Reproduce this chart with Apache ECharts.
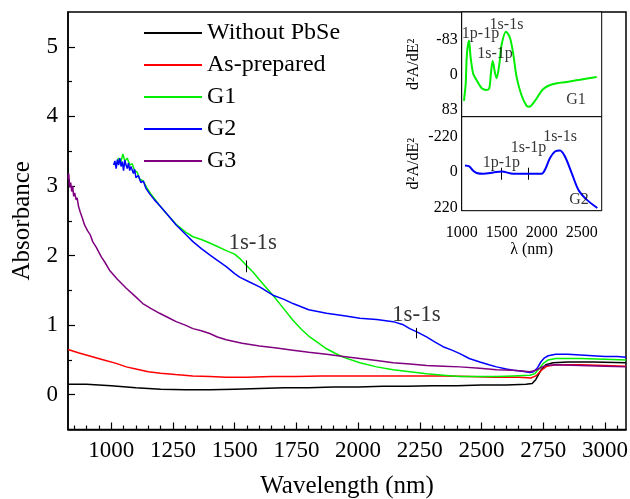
<!DOCTYPE html>
<html><head><meta charset="utf-8">
<script src="https://cdn.jsdelivr.net/npm/echarts@6/dist/echarts.min.js"></script>
<style>html,body{margin:0;padding:0;background:#fff}#c{width:630px;height:499px}</style>
</head><body><div id="c"></div><script>
// ---- main chart data: [wavelength nm, absorbance] ----
const withoutPbSe = [[825,0.15],[900,0.15],[1000,0.13],[1100,0.10],[1200,0.08],[1300,0.07],[1400,0.07],[1500,0.08],[1600,0.09],[1700,0.10],[1800,0.10],[1900,0.11],[2000,0.11],[2100,0.12],[2200,0.12],[2300,0.13],[2400,0.13],[2500,0.14],[2600,0.14],[2680,0.15],[2705,0.16],[2720,0.22],[2740,0.35],[2760,0.43],[2790,0.46],[2850,0.47],[2950,0.47],[3085,0.46]];
const asPrepared = [[825,0.65],[870,0.60],[920,0.55],[970,0.50],[1020,0.45],[1061,0.40],[1100,0.37],[1150,0.33],[1200,0.31],[1260,0.29],[1330,0.27],[1400,0.26],[1466,0.25],[1550,0.25],[1650,0.26],[1750,0.26],[1850,0.27],[1950,0.27],[2050,0.27],[2150,0.27],[2250,0.27],[2350,0.27],[2450,0.26],[2550,0.25],[2650,0.25],[2700,0.24],[2720,0.27],[2745,0.36],[2765,0.41],[2800,0.43],[2900,0.43],[3000,0.42],[3085,0.41]];
const g1 = [[1010,3.32],[1020,3.30],[1030,3.40],[1040,3.35],[1047,3.46],[1055,3.36],[1065,3.40],[1075,3.30],[1085,3.32],[1095,3.22],[1105,3.20],[1115,3.10],[1130,3.07],[1145,2.97],[1160,2.89],[1196,2.72],[1230,2.58],[1263,2.45],[1300,2.34],[1331,2.27],[1365,2.23],[1399,2.18],[1430,2.13],[1466,2.07],[1500,2.02],[1520,1.96],[1547,1.86],[1575,1.76],[1601,1.65],[1630,1.53],[1655,1.43],[1700,1.23],[1736,1.07],[1770,0.94],[1804,0.83],[1840,0.74],[1872,0.66],[1905,0.60],[1939,0.54],[2007,0.46],[2075,0.40],[2142,0.36],[2210,0.33],[2277,0.30],[2345,0.28],[2412,0.26],[2493,0.26],[2560,0.26],[2628,0.27],[2696,0.28],[2715,0.30],[2735,0.38],[2750,0.45],[2770,0.50],[2800,0.52],[2900,0.52],[3000,0.51],[3085,0.50]];
const g2 = [[1010,3.30],[1015,3.36],[1020,3.25],[1025,3.38],[1030,3.30],[1035,3.40],[1040,3.28],[1045,3.35],[1050,3.22],[1055,3.37],[1060,3.30],[1065,3.25],[1070,3.33],[1075,3.22],[1080,3.28],[1090,3.18],[1095,3.24],[1100,3.12],[1110,3.15],[1120,3.05],[1130,3.07],[1140,2.97],[1155,2.89],[1175,2.80],[1196,2.72],[1230,2.58],[1263,2.44],[1300,2.31],[1331,2.20],[1365,2.10],[1399,2.01],[1430,1.93],[1466,1.84],[1500,1.74],[1520,1.69],[1560,1.62],[1601,1.55],[1655,1.43],[1700,1.37],[1736,1.31],[1800,1.22],[1872,1.17],[1950,1.13],[2007,1.10],[2075,1.08],[2142,1.05],[2180,1.01],[2209,0.95],[2240,0.90],[2277,0.83],[2310,0.76],[2344,0.69],[2380,0.64],[2412,0.59],[2450,0.52],[2493,0.47],[2530,0.43],[2561,0.40],[2600,0.37],[2628,0.35],[2660,0.34],[2696,0.32],[2710,0.33],[2725,0.38],[2740,0.47],[2755,0.53],[2770,0.56],[2800,0.58],[2850,0.58],[2900,0.57],[2950,0.56],[3000,0.55],[3050,0.55],[3085,0.54]];
const g3 = [[825,3.10],[828,3.18],[832,2.98],[836,3.05],[840,2.92],[844,3.00],[848,2.85],[852,2.90],[858,2.80],[862,2.83],[868,2.70],[875,2.62],[882,2.55],[892,2.44],[905,2.35],[915,2.30],[925,2.20],[939,2.12],[960,1.98],[975,1.90],[993,1.79],[1025,1.66],[1061,1.53],[1095,1.42],[1128,1.31],[1160,1.24],[1196,1.17],[1230,1.11],[1263,1.05],[1300,1.00],[1331,0.95],[1365,0.92],[1399,0.88],[1430,0.83],[1466,0.79],[1530,0.74],[1601,0.70],[1670,0.67],[1736,0.64],[1800,0.61],[1872,0.58],[1940,0.55],[2007,0.52],[2075,0.49],[2142,0.46],[2210,0.44],[2277,0.42],[2345,0.41],[2412,0.40],[2493,0.38],[2560,0.36],[2628,0.35],[2696,0.33],[2720,0.35],[2740,0.39],[2760,0.42],[2800,0.43],[2900,0.42],[3000,0.41],[3085,0.40]];
const seriesNames = ['Without PbSe','As-prepared','G1','G2','G3'];
const xMajorTicks = [1000,1250,1500,1750,2000,2250,2500,2750,3000];
const xMinorTicks = [850,900,950,1050,1100,1150,1200,1300,1350,1400,1450,1550,1600,1650,1700,1800,1850,1900,1950,2050,2100,2150,2200,2300,2350,2400,2450,2550,2600,2650,2700,2800,2850,2900,2950,3050];
const yMajorTicks = [0,1,2,3,4,5];
const yMinorTicks = [0.5,1.5,2.5,3.5,4.5];
// annotations (data coords)
const mainLabels = [[1573,2.18,'1s-1s'],[2236,1.14,'1s-1s']];
const mainMarks = [[1547,1.76,1.93],[2234,0.81,0.96]];

// ---- inset data: [wavelength nm, d2A/dE2] ----
const insetG1 = [[1029,62],[1035,50],[1050,22],[1065,-49],[1091,-82],[1112,-41],[1145,-2],[1187,13],[1250,32],[1312,36],[1345,32],[1366,-5],[1387,-33],[1416,-5],[1437,8],[1470,-25],[1500,-73],[1554,-103],[1604,-88],[1645,-49],[1687,6],[1750,50],[1812,74],[1845,76],[1916,62],[2020,34],[2145,22],[2312,17],[2479,12],[2687,5]];
const insetG2 = [[1041,-41],[1095,-35],[1140,-10],[1187,6],[1270,11],[1395,3],[1500,-4],[1645,11],[1833,11],[2000,11],[2041,-14],[2104,-87],[2166,-128],[2229,-135],[2291,-97],[2375,6],[2458,110],[2562,172],[2695,224]];
const insetXTicks = [1000,1500,2000,2500];
const insetXMinor = [1100,1200,1300,1400,1600,1700,1800,1900,2100,2200,2300,2400,2600,2700];
const insetG1Ticks = [-83,0,83];
const insetG2Ticks = [-220,0,220];
const insetG1Labels = [[1235,-97,'1p-1p'],[1560,-119,'1s-1s'],[1416,-50,'1s-1p'],[2429,59,'G1']];
const insetG2Labels = [[2229,-220,'1s-1s'],[1835,-151,'1s-1p'],[1497,-58,'1p-1p'],[2466,173,'G2']];
const insetG2Marks = [[1500,-27,48],[1833,-27,48]];

const FONT = "'Liberation Serif','Times New Roman',serif";
const colors = ['#000000','#ff0000','#00ee00','#0000ff','#800080'];
const chart = echarts.init(document.getElementById('c'), null, {renderer:'canvas'});
const plain = v => String(v);

function labelSeries(list, xi, yi, size){
  return {type:'scatter', xAxisIndex:xi, yAxisIndex:yi, symbolSize:0, silent:true, z:7,
    itemStyle:{color:'rgba(0,0,0,0)'},
    data: list.map(d=>({value:[d[0],d[1]], label:{formatter:d[2]}})),
    label:{show:true, position:'inside', color:'#000', fontFamily:FONT, fontSize:size}};
}
function markSeries(list, xi, yi){
  return {type:'line', xAxisIndex:xi, yAxisIndex:yi, data:[], silent:true, z:7,
    markLine:{symbol:['none','none'], silent:true, animation:false, label:{show:false},
      lineStyle:{color:'#000', width:1, type:'solid'},
      data: list.map(d=>[{coord:[d[0],d[1]]},{coord:[d[0],d[2]]}])}};
}

const mainData = [withoutPbSe, asPrepared, g1, g2, g3];
const series = mainData.map((d,i)=>({type:'line', name:seriesNames[i], xAxisIndex:0, yAxisIndex:0,
  data:d, symbol:'none', lineStyle:{color:colors[i], width:1.5}, itemStyle:{color:colors[i]}, z:2}));
series.push(labelSeries(mainLabels,0,0,23));
series.push(markSeries(mainMarks,0,0));
series.push({type:'line', name:'G1 inset', xAxisIndex:2, yAxisIndex:2, data:insetG1, symbol:'none', smooth:0.3, lineStyle:{color:'#00ee00', width:2}, z:6});
series.push({type:'line', name:'G2 inset', xAxisIndex:3, yAxisIndex:3, data:insetG2, symbol:'none', smooth:0.3, lineStyle:{color:'#0000ff', width:2}, z:6});
series.push(labelSeries(insetG1Labels,2,2,16));
series.push(labelSeries(insetG2Labels,3,3,16));
series.push(markSeries(insetG2Marks,3,3));

const gridBase = {outerBoundsMode:'none', containLabel:false};
const option = {
  animation:false,
  backgroundColor:'#fff',
  color: colors,
  textStyle:{fontFamily:FONT},
  legend:{data:seriesNames, orient:'vertical', left:144, top:21, padding:0, itemGap:8,
    itemWidth:58, itemHeight:2, icon:'rect', textStyle:{fontFamily:FONT, fontSize:24, color:'#000'}},
  grid:[
    Object.assign({left:68, right:4, top:12, bottom:69.5, show:true, borderColor:'#000', borderWidth:1.5, backgroundColor:'#fff'}, gridBase),
    Object.assign({left:68, right:4, top:12, bottom:69.5, show:false}, gridBase),
    Object.assign({left:461.7, width:140, top:12, height:104.7, show:true, borderColor:'#000', borderWidth:1, backgroundColor:'#fff', z:1}, gridBase),
    Object.assign({left:461.7, width:140, top:116.7, height:94, show:true, borderColor:'#000', borderWidth:1, backgroundColor:'#fff', z:1}, gridBase)
  ],
  xAxis:[
    {gridIndex:0, type:'value', min:825, max:3085, splitLine:{show:false},
      axisLine:{onZero:false, lineStyle:{color:'#000', width:1.5}},
      axisTick:{inside:true, length:7, customValues:xMajorTicks, lineStyle:{color:'#000', width:1.2}},
      axisLabel:{customValues:xMajorTicks, formatter:plain, fontSize:23, color:'#000', margin:10, fontFamily:FONT},
      name:'Wavelength (nm)', nameLocation:'middle', nameGap:44, nameTextStyle:{fontSize:25, color:'#000', fontFamily:FONT}},
    {gridIndex:1, type:'value', min:825, max:3085, splitLine:{show:false},
      axisLine:{show:false, onZero:false},
      axisTick:{inside:true, length:4, customValues:xMinorTicks, lineStyle:{color:'#000', width:1.2}},
      axisLabel:{show:false}},
    {gridIndex:2, type:'value', min:1000, max:2750, splitLine:{show:false},
      axisLine:{onZero:false, lineStyle:{color:'#000', width:1}},
      axisTick:{inside:true, length:4, customValues:insetXTicks.concat(insetXMinor), lineStyle:{color:'#000'}},
      axisLabel:{show:false}},
    {gridIndex:3, type:'value', min:1000, max:2750, splitLine:{show:false},
      axisLine:{onZero:false, lineStyle:{color:'#000', width:1}},
      axisTick:{inside:true, length:4, customValues:insetXTicks.concat(insetXMinor), lineStyle:{color:'#000'}},
      axisLabel:{customValues:insetXTicks, formatter:plain, fontSize:16, color:'#000', margin:14, fontFamily:FONT},
      name:'λ (nm)', nameLocation:'middle', nameGap:31, nameTextStyle:{fontSize:16, color:'#000', fontFamily:FONT}}
  ],
  yAxis:[
    {gridIndex:0, type:'value', min:-0.5, max:5.5, splitLine:{show:false},
      axisLine:{onZero:false, lineStyle:{color:'#000', width:1.5}},
      axisTick:{inside:true, length:7, customValues:yMajorTicks, lineStyle:{color:'#000', width:1.2}},
      axisLabel:{customValues:yMajorTicks, formatter:plain, fontSize:23, color:'#000', margin:10, fontFamily:FONT},
      name:'Absorbance', nameLocation:'middle', nameGap:33, nameRotate:90, nameTextStyle:{fontSize:25, color:'#000', fontFamily:FONT}},
    {gridIndex:1, type:'value', min:-0.5, max:5.5, splitLine:{show:false},
      axisLine:{show:false, onZero:false},
      axisTick:{inside:true, length:4, customValues:yMinorTicks, lineStyle:{color:'#000', width:1.2}},
      axisLabel:{show:false}},
    {gridIndex:2, type:'value', min:-150, max:100, inverse:true, splitLine:{show:false},
      axisLine:{onZero:false, lineStyle:{color:'#000', width:1}},
      axisTick:{inside:true, length:3, customValues:insetG1Ticks, lineStyle:{color:'#000'}},
      axisLabel:{customValues:insetG1Ticks, formatter:plain, fontSize:16, color:'#000', margin:4, fontFamily:FONT},
      name:'d²A/dE²', nameLocation:'middle', nameGap:40, nameRotate:90, nameTextStyle:{fontSize:16, color:'#000', fontFamily:FONT}},
    {gridIndex:3, type:'value', min:-345, max:241, inverse:true, splitLine:{show:false},
      axisLine:{onZero:false, lineStyle:{color:'#000', width:1}},
      axisTick:{inside:true, length:3, customValues:insetG2Ticks, lineStyle:{color:'#000'}},
      axisLabel:{customValues:insetG2Ticks, formatter:plain, fontSize:16, color:'#000', margin:4, fontFamily:FONT},
      name:'d²A/dE²', nameLocation:'middle', nameGap:40, nameRotate:90, nameTextStyle:{fontSize:16, color:'#000', fontFamily:FONT}}
  ],
  series: series
};
chart.setOption(option);
</script></body></html>
